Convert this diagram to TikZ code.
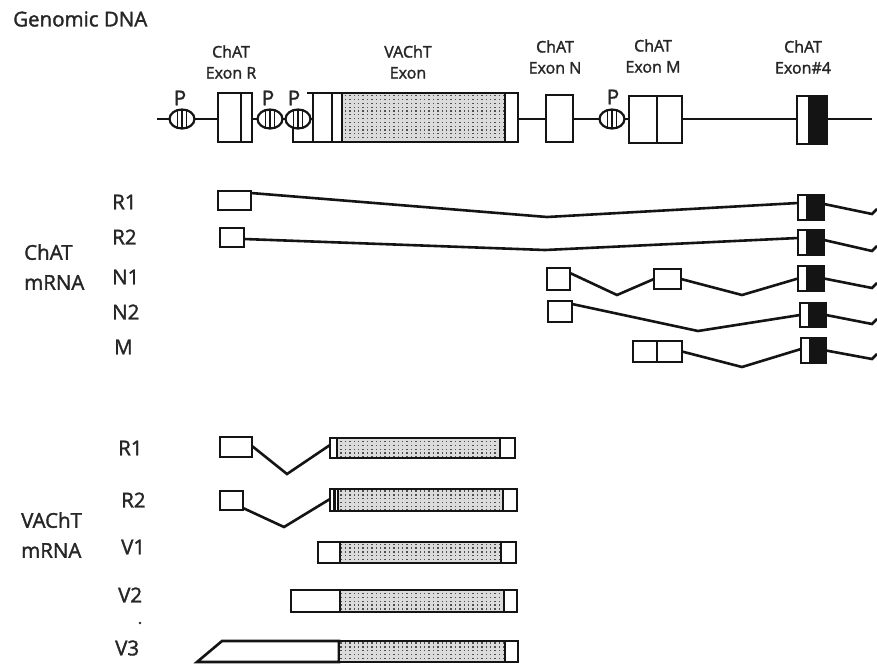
\documentclass[tikz,border=0pt]{standalone}
\usepackage{fontspec}
\setmainfont{Open Sans}
\newfontfamily\lblf{Open Sans}[FakeBold=1.6]
\usetikzlibrary{patterns,shapes.geometric}
\pgfdeclarepatternformonly{stip}{\pgfpoint{-1pt}{-1pt}}{\pgfpoint{5.5pt}{5pt}}{\pgfpoint{4.4pt}{3.8pt}}{%
  \pgfpathrectangle{\pgfpoint{1.6pt}{1.3pt}}{\pgfpoint{1.3pt}{1.3pt}}\pgfusepath{fill}}
\definecolor{ink}{gray}{0.08}
\definecolor{txt}{gray}{0.15}
\definecolor{stipbg}{gray}{0.86}
\tikzset{
  ln/.style={line width=2.6pt, draw=ink, line join=miter},
  box/.style={draw=ink, line width=2.6pt, rectangle, inner sep=0pt, outer sep=0pt, fill=white},
  lbl/.style={text=txt, font=\lblf\fontsize{20.5}{23}\selectfont, inner sep=0pt},
  exlbl/.style={text=txt, font=\lblf\fontsize{16}{21}\selectfont, align=center, inner sep=0pt},
  stipple/.style={preaction={fill=stipbg}, pattern=stip, pattern color=ink!75},
  prom/.style={draw=ink, line width=2.2pt, ellipse, minimum width=25pt, minimum height=19pt,
    inner sep=0pt, fill=white,
    path picture={
      \draw[line width=1.7pt, ink] ([xshift=-4.5pt]path picture bounding box.north) -- ([xshift=-4.5pt]path picture bounding box.south)
        (path picture bounding box.north) -- (path picture bounding box.south)
        ([xshift=4.5pt]path picture bounding box.north) -- ([xshift=4.5pt]path picture bounding box.south);}}
}
% name, x0, y0, x1, y1
\newcommand\bx[5]{\node[box, anchor=north west, minimum width={(#4)-(#2)}, minimum height={(#5)-(#3)}] (#1) at (#2,#3) {};}
% name, x0, xa, xb, x1, y0, y1 : stippled bar
\newcommand\vbar[7]{\bx{#1}{#2}{#6}{#5}{#7}
  \fill[stipple] (#3,#6) rectangle (#4,#7);
  \draw[ln] (#3,#6) -- (#3,#7) (#4,#6) -- (#4,#7);
  \draw[ln] (#1.north west) rectangle (#1.south east);}
% name, x0, xw, x1, y0, y1 : exon 4
\newcommand\exfour[6]{\bx{#1}{#2}{#5}{#4}{#6}
  \fill[ink] (#3,#5) rectangle (#4,#6);
  \draw[ln] (#3,#5) -- (#3,#6);
  \draw[ln] (#1.north west) rectangle (#1.south east);}
\begin{document}
\begin{tikzpicture}[x=1pt,y=-1pt]
\useasboundingbox[fill=white] (0,0) rectangle (877,664);

\node[lbl, anchor=west] (gdna) at (13,19) {Genomic DNA};

% ---------- genomic DNA ----------
\coordinate (dnaL) at (157,119);
\coordinate (dnaR) at (872,119);
\draw[ln] (dnaL) -- (dnaR);

\bx{gV}{313}{93}{518}{142}
\fill[stipple] (342,93) rectangle (505,142);
\draw[ln] (332,93) -- (332,142) (342,93) -- (342,142) (505,93) -- (505,142);
\draw[ln] (gV.north west) rectangle (gV.south east);
\coordinate (vleg) at (293,124);
\coordinate (vcorner) at (293,142);
\coordinate (vtop) at (307,93);
\draw[ln] (vleg) -- (vcorner) -- (gV.south west);
\draw[ln] (vtop) -- (gV.north west);

\node[prom] (p1) at (182,119) {};
\node[prom] (p2) at (270,119) {};
\node[prom] (p3) at (298,119) {};
\node[prom] (p4) at (612,119) {};
\node[lbl] (p1l) at (180,98) {P};
\node[lbl] (p2l) at (268,98) {P};
\node[lbl] (p3l) at (294,98) {P};
\node[lbl] (p4l) at (613,97) {P};

\bx{gR}{218}{93}{252}{142}
\draw[ln] (241,93) -- (241,142);
\bx{gN}{546}{95}{573}{142}
\bx{gM}{629}{96}{682}{143}
\draw[ln] (657,96) -- (657,143);
\exfour{g4}{797}{809}{827}{96}{144}

\node[exlbl] (lR) at (231,62) {ChAT\\Exon R};
\node[exlbl] (lV) at (408,62) {VAChT\\Exon};
\node[exlbl] (lN) at (555,57) {ChAT\\Exon N};
\node[exlbl] (lM) at (653,56) {ChAT\\Exon M};
\node[exlbl] (l4) at (803,57) {ChAT\\Exon\#4};

% ---------- ChAT mRNA ----------
\node[lbl, anchor=west, align=left] (chat) at (24,267) {ChAT\\[7pt]mRNA};
\node[lbl, anchor=west] (cR1l) at (112,202) {R1};
\node[lbl, anchor=west] (cR2l) at (112,237) {R2};
\node[lbl, anchor=west] (cN1l) at (112,277) {N1};
\node[lbl, anchor=west] (cN2l) at (112,312) {N2};
\node[lbl, anchor=west] (cMl) at (114,347) {M};

% R1
\bx{cR1a}{218}{191}{251}{210}
\exfour{cR1e}{798}{807}{824}{195}{220}
\coordinate (cR1k) at (547,217);
\coordinate (cR1t) at (872,214);
\coordinate (cR1u) at (877,209);
\draw[ln] ([yshift=-2pt]cR1a.north east) -- (cR1k) -- ([yshift=4.5pt]cR1e.west);
\draw[ln] ([yshift=3.5pt]cR1e.east) -- (cR1t) -- (cR1u);
% R2
\bx{cR2a}{220}{228}{244}{247}
\exfour{cR2e}{798}{807}{824}{230}{255}
\coordinate (cR2k) at (545,250);
\coordinate (cR2t) at (872,251);
\coordinate (cR2u) at (877,246);
\draw[ln] ([yshift=-1.5pt]cR2a.east) -- (cR2k) -- ([yshift=4.5pt]cR2e.west);
\draw[ln] ([yshift=2.5pt]cR2e.east) -- (cR2t) -- (cR2u);
% N1
\bx{cN1a}{547}{268}{570}{290}
\bx{cN1b}{654}{269}{681}{289}
\exfour{cN1e}{798}{807}{824}{266}{291}
\coordinate (cN1k) at (617,295);
\coordinate (cN1j) at (742,295);
\coordinate (cN1t) at (872,288);
\coordinate (cN1u) at (877,283);
\draw[ln] ([yshift=-5pt]cN1a.north east) -- (cN1k) -- (cN1b.west);
\draw[ln] (cN1b.east) -- (cN1j) -- (cN1e.west);
\draw[ln] (cN1e.east) -- (cN1t) -- (cN1u);
% N2
\bx{cN2a}{548}{301}{572}{322}
\exfour{cN2e}{800}{809}{826}{303}{327}
\coordinate (cN2k) at (698,331);
\coordinate (cN2t) at (872,324);
\coordinate (cN2u) at (877,319);
\draw[ln] ([yshift=-3pt]cN2a.north east) -- (cN2k) -- (cN2e.west);
\draw[ln] (cN2e.east) -- (cN2t) -- (cN2u);
% M
\bx{cMa}{633}{341}{682}{362}
\draw[ln] (657,341) -- (657,362);
\exfour{cMe}{801}{810}{826}{338}{363}
\coordinate (cMk) at (742,367);
\coordinate (cMt) at (872,359);
\coordinate (cMu) at (877,354);
\draw[ln] (cMa.east) -- (cMk) -- ([yshift=1.5pt]cMe.west);
\draw[ln] (cMe.east) -- (cMt) -- (cMu);

% ---------- VAChT mRNA ----------
\node[lbl, anchor=west, align=left] (vacht) at (21,535) {VAChT\\[7pt]mRNA};
\node[lbl, anchor=west] (vR1l) at (118,448) {R1};
\node[lbl, anchor=west] (vR2l) at (121,500) {R2};
\node[lbl, anchor=west] (vV1l) at (121,547) {V1};
\node[lbl, anchor=west] (vV2l) at (118,595) {V2};
\node[lbl, anchor=west] (vV3l) at (115,648) {V3};
\fill[txt] (140,623) circle (1.3pt);

% R1
\bx{vR1a}{220}{437}{252}{457}
\vbar{vR1b}{330}{337}{500}{515}{438}{458}
\coordinate (vR1k) at (287,474);
\draw[ln] ([yshift=1pt]vR1a.east) -- (vR1k) -- ([yshift=3pt]vR1b.west);
% R2
\bx{vR2a}{220}{491}{243}{510}
\vbar{vR2b}{330}{338}{503}{517}{489}{511}
\draw[ln] (334.5,489) -- (334.5,511);
\coordinate (vR2k) at (284,527);
\draw[ln] ([yshift=2pt]vR2a.south east) -- (vR2k) -- ([yshift=1pt]vR2b.west);
% V1
\vbar{vV1}{318}{340}{501}{516}{542}{563}
% V2
\vbar{vV2}{291}{340}{504}{517}{590}{612}
% V3
\coordinate (v3a) at (197,662);
\coordinate (v3b) at (222,641);
\bx{vV3}{339}{641}{518}{662}
\draw[ln, fill=white] (v3a) -- (v3b) -- (vV3.north west) -- (vV3.south west) -- cycle;
\fill[stipple] (339,641) rectangle (505,662);
\draw[ln] (505,641) -- (505,662);
\draw[ln] (vV3.north west) rectangle (vV3.south east);
\end{tikzpicture}
\end{document}
